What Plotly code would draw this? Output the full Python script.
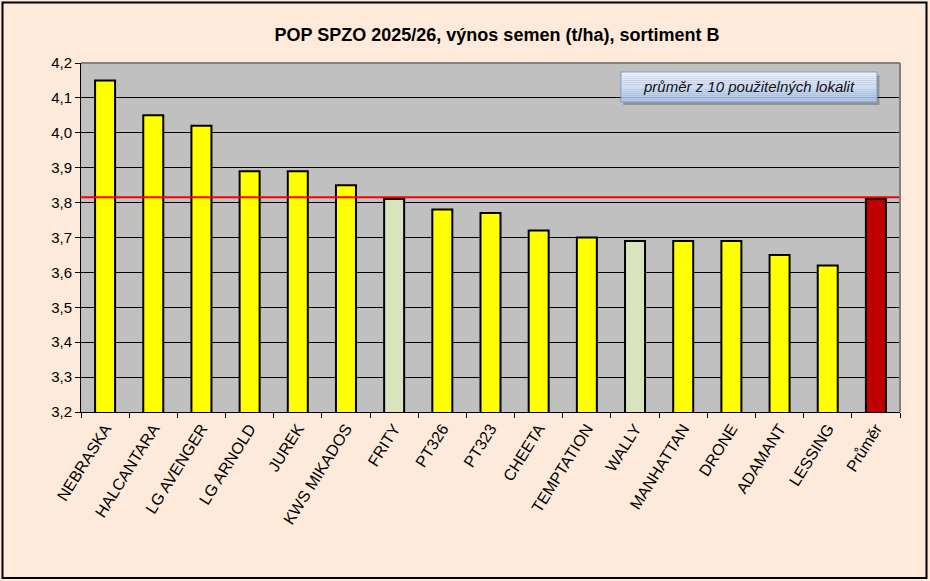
import plotly.graph_objects as go

# odrůdy, výnos semen (t/ha), poslední sloupec je průměr
odrudy = ["NEBRASKA", "HALCANTARA", "LG AVENGER", "LG ARNOLD", "JUREK",
          "KWS MIKADOS", "FRITY", "PT326", "PT323", "CHEETA", "TEMPTATION",
          "WALLY", "MANHATTAN", "DRONE", "ADAMANT", "LESSING", "Průměr"]
vynos = [4.15, 4.05, 4.02, 3.89, 3.89, 3.85, 3.81, 3.78, 3.77, 3.72, 3.70,
         3.69, 3.69, 3.69, 3.65, 3.62, 3.81]
kontroly = ["FRITY", "WALLY"]
prumer_label = "Průměr"
prumer_hodnota = 3.815

y_ticks = [3.2, 3.3, 3.4, 3.5, 3.6, 3.7, 3.8, 3.9, 4.0, 4.1, 4.2]
title_text = "POP SPZO 2025/26, výnos semen (t/ha), sortiment B"
note_text = "průměr z 10 použitelných lokalit"

FONT = "Liberation Sans, Arial, sans-serif"

# barvy sloupců podle typu odrůdy
colors = []
for o in odrudy:
    if o == prumer_label:
        colors.append("#C00000")
    elif o in kontroly:
        colors.append("#D8E4BC")
    else:
        colors.append("#FFFF00")

fig = go.Figure(
    data=[go.Bar(x=odrudy, y=vynos,
                 marker=dict(color=colors, line=dict(color="black", width=2)),
                 hoverinfo="x+y")]
)

shapes = []

# vodorovná čára průměru
shapes.append(dict(type="line", xref="paper", yref="y", x0=0, x1=1,
                   y0=prumer_hodnota, y1=prumer_hodnota,
                   line=dict(color="#FF0000", width=2), layer="above"))

# horní a pravý okraj plochy grafu (šedý)
shapes.append(dict(type="line", xref="paper", yref="paper", x0=0, x1=1, y0=1, y1=1,
                   line=dict(color="#808080", width=2), layer="above"))
shapes.append(dict(type="line", xref="paper", yref="paper", x0=1, x1=1, y0=0, y1=1,
                   line=dict(color="#808080", width=2), layer="above"))

# rámeček s poznámkou - stín + gradient
bx0, bx1, by0, by1 = 0.6593, 0.9719, 0.8883, 0.9742
shapes.append(dict(type="rect", xref="paper", yref="paper",
                   x0=bx0 + 0.003, x1=bx1 + 0.003, y0=by0 - 0.009, y1=by1 - 0.009,
                   fillcolor="rgba(60,60,60,0.35)", line=dict(width=0), layer="above"))
top_c = (238, 244, 253)
bot_c = (176, 199, 238)
n = 14
for i in range(n):
    t = i / (n - 1)
    c = tuple(int(round(top_c[k] + (bot_c[k] - top_c[k]) * t)) for k in range(3))
    ya = by1 - (by1 - by0) * i / n
    yb = by1 - (by1 - by0) * (i + 1) / n
    shapes.append(dict(type="rect", xref="paper", yref="paper",
                       x0=bx0, x1=bx1, y0=yb, y1=ya,
                       fillcolor="rgb(%d,%d,%d)" % c, line=dict(width=0), layer="above"))
shapes.append(dict(type="rect", xref="paper", yref="paper",
                   x0=bx0, x1=bx1, y0=by0, y1=by1,
                   line=dict(color="#7F9BC9", width=1), layer="above"))

# černý rámeček kolem celého obrázku
shapes.append(dict(type="rect", xref="paper", yref="paper",
                   x0=(2.5 - 81) / 819, x1=(926.5 - 81) / 819,
                   y0=(412 - 578) / 349, y1=(412 - 2.5) / 349,
                   line=dict(color="black", width=2), layer="above"))

fig.update_layout(
    width=930, height=581,
    margin=dict(l=81, r=30, t=63, b=169),
    paper_bgcolor="#FDEADA",
    plot_bgcolor="#C0C0C0",
    separators=", ",
    showlegend=False,
    bargap=0.585,
    font=dict(family=FONT, color="black"),
    title=dict(text="<b>" + title_text + "</b>", xref="container", yref="container",
               x=497 / 930, y=1 - 35 / 581, xanchor="center", yanchor="middle",
               font=dict(size=18, family=FONT, color="black")),
    shapes=shapes,
    annotations=[dict(text="<i>" + note_text + "</i>", xref="paper", yref="paper",
                      x=(bx0 + bx1) / 2, y=(by0 + by1) / 2,
                      xanchor="center", yanchor="middle", showarrow=False,
                      font=dict(size=15, family=FONT, color="#111111"))],
)

fig.update_xaxes(
    type="category", tickangle=-58, tickson="boundaries",
    ticks="outside", ticklen=5, tickcolor="black", tickwidth=1,
    showline=True, linecolor="black", linewidth=1,
    showgrid=False, tickfont=dict(size=16, family=FONT, color="black"),
)
fig.update_yaxes(
    range=[3.2, 4.2], tickvals=y_ticks, tickformat=".1f",
    ticks="outside", ticklen=5, tickcolor="black", tickwidth=1,
    showline=True, linecolor="black", linewidth=1,
    showgrid=True, gridcolor="black", gridwidth=1, zeroline=False,
    tickfont=dict(size=15, family=FONT, color="black"),
)

# bez okraje stránky, aby graf seděl od levého horního rohu
fig.write_html("out.html", config={"displayModeBar": False},
               post_script="document.body.style.margin='0';")
